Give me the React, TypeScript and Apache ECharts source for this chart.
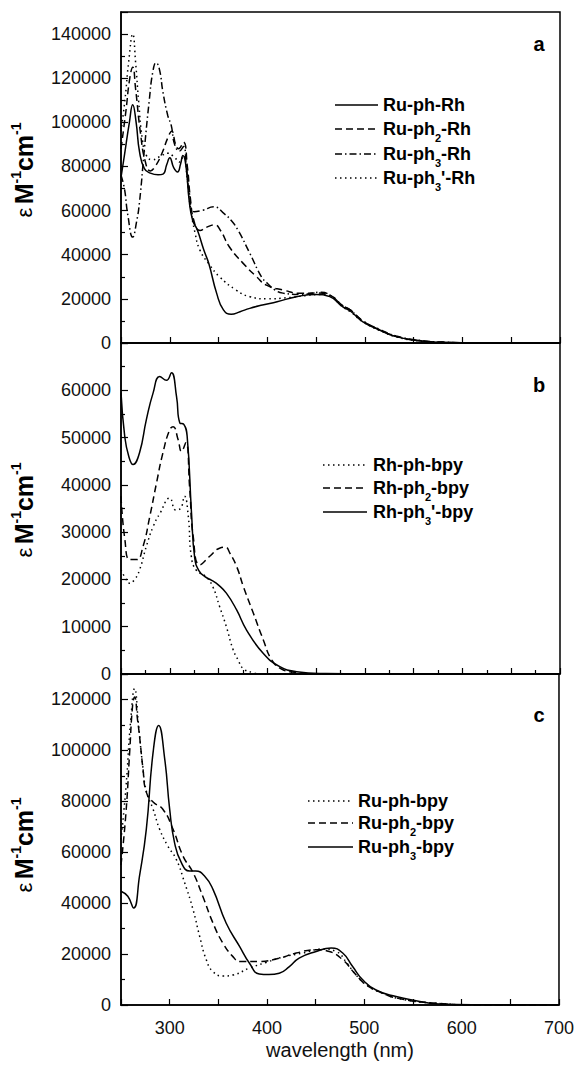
import React, { useEffect, useRef } from "react";
import * as echarts from "echarts";

// ---------- data (wavelength nm, epsilon M^-1 cm^-1) ----------
// Panel a
const ruPhRh: [number, number][] = [
  [250, 75000], [253.5, 85000], [258.6, 100000], [262, 108000], [265.5, 100000], [269, 86600],
  [274, 79000], [280, 77000], [288, 76200], [293, 76500], [297, 81000], [300, 84000], [304, 79500],
  [308, 77500], [311, 81000], [313.5, 85000], [316.5, 80500], [320, 64000], [323.5, 55500],
  [328, 51500], [335, 42000], [340, 36000], [348, 22600], [355, 15000], [363, 13000], [372, 14200],
  [382, 15700], [395, 17200], [410, 18700], [430, 21000], [450, 22000], [464, 21000], [477, 16500],
  [485, 14500], [498, 9600], [515, 5900], [532, 2900], [556, 1000], [580, 300], [620, 0], [700, 0],
];
const ruPh2Rh: [number, number][] = [
  [250, 88000], [255, 105000], [259, 120000], [262, 125000], [265, 115000], [270, 95000],
  [275, 82000], [280, 78000], [285, 80000], [292, 86000], [298, 93000], [302, 96000], [306, 90000],
  [309, 88000], [314, 91000], [318, 80000], [321, 66000], [325, 55000], [331, 51000], [338, 52500],
  [346, 53500], [352, 51000], [361, 43600], [375, 36200], [389, 30000], [399, 26200], [416, 24000],
  [435, 22500], [452, 22700], [465, 21500], [477, 17000], [485, 15000], [498, 10000], [515, 6000],
  [532, 3000], [556, 1000], [580, 300], [620, 0], [700, 0],
];
const ruPh3Rh: [number, number][] = [
  [250, 76000], [253.5, 70000], [257, 58000], [262, 48000], [266, 55000], [269, 64000],
  [274, 88000], [279, 110000], [282.6, 122800], [286, 127000], [289.4, 124000], [293, 113700],
  [298, 103000], [301.5, 98600], [305, 90000], [310, 87000], [314, 89000], [317, 80000],
  [320, 68000], [325, 59500], [334, 60200], [345, 61700], [356, 58500], [363, 55500], [370, 51100],
  [382, 40700], [394, 30000], [400, 27100], [408, 24000], [416, 22600], [435, 22000], [455, 23000],
  [465, 21500], [477, 17000], [485, 15000], [498, 10000], [515, 6200], [532, 3200], [556, 1200],
  [580, 400], [620, 0], [700, 0],
];
const ruPh3pRh: [number, number][] = [
  [250, 96000], [254, 110000], [258, 128000], [262, 140000], [265, 127000], [268, 110000],
  [272, 92000], [276, 85000], [282, 83000], [290, 84500], [298, 86000], [305, 84000], [310, 82000],
  [314, 85000], [318, 74000], [321, 62000], [326, 49700], [331, 42000], [341, 35300], [351, 30000],
  [368, 24000], [382, 21000], [400, 20000], [420, 20500], [440, 21500], [455, 22000], [465, 21000],
  [477, 16500], [485, 14200], [498, 9600], [515, 5700], [532, 2800], [556, 900], [580, 200],
  [620, 0], [700, 0],
];
// Panel b
const rhPhBpy: [number, number][] = [
  [250, 22000], [254, 20500], [259, 19200], [264, 20000], [269, 22000], [276, 27000], [283, 31200],
  [290, 34000], [300, 37200], [306, 34700], [311, 35000], [315, 37600], [319, 33300], [322, 25000],
  [327, 22000], [337, 20600], [344, 18500], [351, 14300], [358, 10000], [365, 5100], [370, 3000],
  [375, 1200], [385, 300], [395, 0], [700, 0],
];
const rhPh2Bpy: [number, number][] = [
  [250, 37600], [254, 28400], [259, 24200], [266, 24200], [272.6, 27000], [279.5, 33300],
  [286.4, 40400], [293, 46800], [300, 51700], [303.4, 52300], [308.5, 49600], [312, 47100],
  [316.4, 48900], [320.5, 39000], [324, 29100], [330.8, 23100], [341, 24900], [351, 26600],
  [357, 26800], [361.5, 25600], [368.6, 22700], [375.4, 18500], [385.6, 12900], [395.9, 7200],
  [404.5, 3000], [415, 1000], [430, 300], [450, 0], [700, 0],
];
const rhPh3pBpy: [number, number][] = [
  [250, 59500], [253.8, 50300], [258, 46000], [262.4, 44300], [269, 46800], [276, 53800],
  [283, 59500], [289.7, 62900], [296.6, 62100], [301.7, 63700], [306.9, 58700], [310.3, 53100],
  [314.4, 52800], [317.8, 50300], [322.3, 34000], [325.6, 24500], [330, 21800], [336, 20600],
  [343, 19800], [350, 18800], [358, 17100], [368.4, 13600], [378.7, 9300], [395.7, 4400],
  [412.8, 1550], [430, 500], [460, 100], [500, 0], [700, 0],
];
// Panel c
const ruPhBpy: [number, number][] = [
  [250, 65000], [255, 85000], [260, 112000], [264, 124300], [268, 110000], [272, 95000],
  [276, 84000], [283, 76900], [289.7, 69000], [298, 62500], [306.8, 57200], [315.4, 48000],
  [324, 37500], [330.8, 27000], [337.6, 17800], [344.5, 13100], [354.7, 11400], [365, 11800],
  [382, 14500], [399, 16700], [416, 18800], [437, 20400], [457, 22000], [471, 21000], [483, 16000],
  [490, 12500], [502, 7900], [519, 4600], [536, 2500], [570, 800], [620, 0], [700, 0],
];
const ruPh2Bpy: [number, number][] = [
  [250, 55000], [255, 75000], [259, 100000], [262, 118000], [264, 121000], [267, 112000],
  [269, 105800], [272.6, 92700], [276, 83600], [283, 79700], [293, 76900], [303.5, 69000],
  [313.7, 58500], [324, 52000], [334, 42700], [344.5, 32200], [354.7, 24300], [365, 19000],
  [372, 17100], [392, 17100], [412.6, 18400], [430, 20400], [450.5, 21700], [464, 21000],
  [478, 17700], [490, 12500], [502, 7900], [519, 4600], [536, 2500], [570, 800], [620, 0], [700, 0],
];
const ruPh3Bpy: [number, number][] = [
  [250, 44700], [257, 42700], [263, 38100], [269, 50600], [276, 69000], [283, 99300],
  [288.7, 109800], [294.9, 96700], [300, 76900], [305, 63800], [312, 55900], [320.5, 52600],
  [326.7, 52600], [336, 50600], [344.5, 45400], [358, 32200], [371.8, 23000], [382, 16400],
  [392, 12200], [402, 12000], [412.6, 12500], [423, 15100], [433, 18400], [450.5, 21000],
  [466, 22400], [477.8, 20400], [488, 15100], [498.3, 9900], [512, 5900], [532.6, 3300],
  [553, 1700], [577, 400], [620, 100], [700, 0],
];

const yMax = [150000, 70000, 130000];
const yInterval = [20000, 10000, 20000];
const panelLetters = ["a", "b", "c"];

const W = 577;
const H = 1066;
const FONT = "'Liberation Sans', Arial, Helvetica, sans-serif";

const DASH = {
  solid: "solid" as any,
  dashed: [7, 4],
  dashdot: [7, 3, 1.5, 3],
  dotted: [1.5, 3.5],
};

const App: React.FC = () => {
  const ref = useRef<HTMLDivElement>(null);

  useEffect(() => {
    if (!ref.current) return;
    const chart = echarts.init(ref.current, undefined, { renderer: "svg" });

    const grids = [0, 1, 2].map((i) => ({
      left: 121,
      top: 12 + i * 331,
      width: 439,
      height: 331,
      show: true,
      borderColor: "#000",
      borderWidth: 1.5,
      backgroundColor: "transparent",
    }));

    const xAxes = [0, 1, 2].map((i) => ({
      type: "value",
      gridIndex: i,
      min: 250,
      max: 700,
      interval: 50,
      axisLine: { show: true, lineStyle: { color: "#000", width: 1.5 } },
      axisTick: { show: true, inside: true, length: 6, lineStyle: { color: "#000", width: 1.2 } },
      minorTick: { show: i === 1, splitNumber: 2, length: 4, lineStyle: { color: "#000", width: 1.2 } },
      splitLine: { show: false },
      axisLabel: {
        show: i === 2,
        margin: 14,
        fontSize: 18,
        color: "#111",
        fontFamily: FONT,
        formatter: (v: number) => (v % 100 === 0 ? String(v) : ""),
      },
      name: i === 2 ? "wavelength (nm)" : "",
      nameLocation: "middle",
      nameGap: 35,
      nameTextStyle: { fontSize: 20, color: "#111", fontFamily: FONT },
    }));

    const yAxes = [0, 1, 2].map((i) => ({
      type: "value",
      gridIndex: i,
      min: 0,
      max: yMax[i],
      interval: yInterval[i],
      axisLine: { show: true, lineStyle: { color: "#000", width: 1.5 } },
      axisTick: { show: true, inside: true, length: 7, lineStyle: { color: "#000", width: 1.2 } },
      minorTick: { show: true, splitNumber: 2, length: 4, lineStyle: { color: "#000", width: 1.2 } },
      splitLine: { show: false },
      axisLabel: {
        showMaxLabel: false,
        margin: 10,
        fontSize: 18,
        color: "#111",
        fontFamily: FONT,
        formatter: (v: number) => String(v),
      },
    }));

    const mk = (name: string, data: [number, number][], idx: number, dash: any) => ({
      name,
      type: "line",
      xAxisIndex: idx,
      yAxisIndex: idx,
      data,
      symbol: "none",
      smooth: 0.5,
      lineStyle: { color: "#000", width: 1.5, type: dash },
    });

    const series = [
      mk("Ru-ph-Rh", ruPhRh, 0, DASH.solid),
      mk("Ru-ph2-Rh", ruPh2Rh, 0, DASH.dashed),
      mk("Ru-ph3-Rh", ruPh3Rh, 0, DASH.dashdot),
      mk("Ru-ph3'-Rh", ruPh3pRh, 0, DASH.dotted),
      mk("Rh-ph-bpy", rhPhBpy, 1, DASH.dotted),
      mk("Rh-ph2-bpy", rhPh2Bpy, 1, DASH.dashed),
      mk("Rh-ph3'-bpy", rhPh3pBpy, 1, DASH.solid),
      mk("Ru-ph-bpy", ruPhBpy, 2, DASH.dotted),
      mk("Ru-ph2-bpy", ruPh2Bpy, 2, DASH.dashed),
      mk("Ru-ph3-bpy", ruPh3Bpy, 2, DASH.solid),
    ];

    const legRich = {
      t: { fontSize: 18, fontWeight: "bold", fontFamily: FONT, fill: "#000", lineHeight: 28, verticalAlign: "middle" },
      s: { fontSize: 11, fontWeight: "bold", fontFamily: FONT, fill: "#000", lineHeight: 8, verticalAlign: "bottom" },
    };

    const legends = [
      {
        x1: 335, x2: 378, tx: 383,
        items: [
          { y: 105, text: "{t|Ru-ph-Rh}", dash: null },
          { y: 129, text: "{t|Ru-ph}{s|2}{t|-Rh}", dash: DASH.dashed },
          { y: 154, text: "{t|Ru-ph}{s|3}{t|-Rh}", dash: DASH.dashdot },
          { y: 178, text: "{t|Ru-ph}{s|3}{t|'-Rh}", dash: DASH.dotted },
        ],
      },
      {
        x1: 323, x2: 367, tx: 373,
        items: [
          { y: 465, text: "{t|Rh-ph-bpy}", dash: DASH.dotted },
          { y: 488, text: "{t|Rh-ph}{s|2}{t|-bpy}", dash: DASH.dashed },
          { y: 512, text: "{t|Rh-ph}{s|3}{t|'-bpy}", dash: null },
        ],
      },
      {
        x1: 308, x2: 353, tx: 358,
        items: [
          { y: 801, text: "{t|Ru-ph-bpy}", dash: DASH.dotted },
          { y: 823, text: "{t|Ru-ph}{s|2}{t|-bpy}", dash: DASH.dashed },
          { y: 847, text: "{t|Ru-ph}{s|3}{t|-bpy}", dash: null },
        ],
      },
    ];

    const graphic: any[] = [];
    legends.forEach((lg) => {
      lg.items.forEach((it) => {
        graphic.push({
          type: "line",
          shape: { x1: lg.x1, y1: it.y, x2: lg.x2, y2: it.y },
          style: { stroke: "#000", lineWidth: 1.5, lineDash: it.dash || undefined },
        });
        graphic.push({
          type: "text",
          x: lg.tx,
          y: it.y,
          style: { text: it.text, rich: legRich, align: "left", verticalAlign: "middle", fill: "#000" },
        });
      });
    });

    const letterY = [44, 385, 715];
    panelLetters.forEach((l, i) => {
      graphic.push({
        type: "text",
        x: 539,
        y: letterY[i],
        style: {
          text: l,
          fontSize: 20,
          fontWeight: "bold",
          fontFamily: FONT,
          fill: "#000",
          align: "center",
          verticalAlign: "middle",
        },
      });
    });

    const titleRich = {
      e: { fontSize: 25, fontWeight: "bold", fontFamily: "'Liberation Sans Narrow', " + FONT, fill: "#000", lineHeight: 30, verticalAlign: "middle" },
      g: { fontSize: 22, fontWeight: "normal", fontFamily: FONT, fill: "#000", lineHeight: 30, verticalAlign: "middle" },
      p: { fontSize: 14, fontWeight: "bold", fontFamily: "'Liberation Sans Narrow', " + FONT, fill: "#000", lineHeight: 10, verticalAlign: "top" },
    };
    const titleY = [170, 510, 845];
    titleY.forEach((ty) => {
      graphic.push({
        type: "text",
        x: 24,
        y: ty,
        rotation: Math.PI / 2,
        style: {
          text: "{g|ε} {e|M}{p|-1}{e|cm}{p|-1}",
          rich: titleRich,
          align: "center",
          verticalAlign: "middle",
          fill: "#000",
        },
      });
    });

    chart.setOption({
      animation: false,
      backgroundColor: "#fff",
      grid: grids,
      xAxis: xAxes,
      yAxis: yAxes,
      series,
      graphic,
    });

    return () => chart.dispose();
  }, []);

  return (
    <div
      ref={ref}
      style={{ position: "fixed", left: 0, top: 0, width: W, height: H, background: "#fff" }}
    />
  );
};

export default App;
